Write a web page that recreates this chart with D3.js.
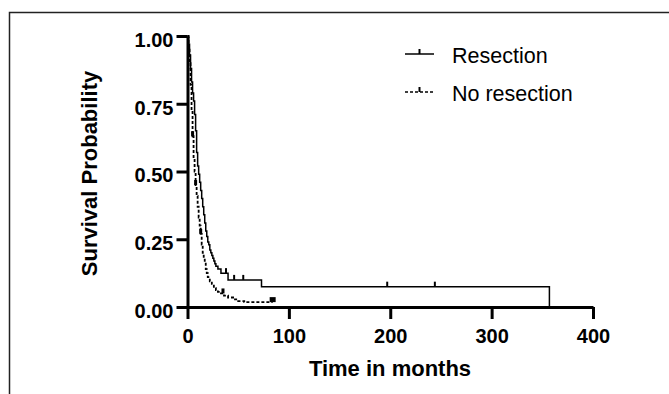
<!DOCTYPE html>
<html>
<head>
<meta charset="utf-8">
<script src="https://cdn.jsdelivr.net/npm/d3@7"></script>
<style>
  body { margin: 0; background: #fff; }
  svg { display: block; font-family: "Liberation Sans", Arial, sans-serif; }
</style>
</head>
<body>
<div id="chart"></div>
<script>
// Kaplan-Meier step points (months, survival)
var resTime = [0, 1, 2, 3, 4, 5, 6, 7, 8, 9, 10, 11, 12, 13, 14, 15, 16, 17, 18, 19, 20, 21, 22, 23, 24, 25, 26, 27, 28, 30, 33, 40, 73, 357, 357];
var resSurv = [1, 0.97, 0.93, 0.88, 0.83, 0.79, 0.76, 0.71, 0.65, 0.57, 0.52, 0.49, 0.46, 0.43, 0.40, 0.37, 0.34, 0.31, 0.28, 0.26, 0.24, 0.23, 0.21, 0.20, 0.19, 0.18, 0.17, 0.16, 0.15, 0.14, 0.125, 0.10, 0.075, 0, 0];
var resCensTime = [38, 46, 55, 197, 244];
var resCensSurv = [0.125, 0.10, 0.10, 0.075, 0.075];

var noTime = [0, 1, 2, 3, 4, 5, 6, 7, 8, 9, 10, 11, 12, 13, 14, 15, 16, 17, 18, 19, 20, 22, 24, 26, 28, 30, 33, 36, 40, 45, 50, 56, 84];
var noSurv = [1, 0.95, 0.90, 0.82, 0.72, 0.63, 0.55, 0.50, 0.45, 0.41, 0.37, 0.33, 0.30, 0.27, 0.23, 0.20, 0.18, 0.16, 0.14, 0.125, 0.11, 0.095, 0.085, 0.07, 0.062, 0.056, 0.05, 0.042, 0.035, 0.028, 0.022, 0.018, 0.018];
var noCensTime = [5, 8, 13, 35, 84];
var noCensSurv = [0.63, 0.45, 0.27, 0.05, 0.018];

var xTicks = [0, 100, 200, 300, 400];
var yTicks = [0, 0.25, 0.5, 0.75, 1];
var seriesNames = ["Resection", "No resection"];

const WIDTH = 669, HEIGHT = 394;

var svg = d3.select("#chart").append("svg")
    .attr("width", WIDTH)
    .attr("height", HEIGHT);

// outer frame (only top and left edges visible)
svg.append("path")
    .attr("d", "M9.5," + HEIGHT + "V12.5H" + WIDTH)
    .attr("fill", "none")
    .attr("stroke", "#222")
    .attr("stroke-width", 1.5);

var xScale = d3.scaleLinear().domain([0, 400]).range([187.5, 593]);
var yScale = d3.scaleLinear().domain([0, 1]).range([307, 36]);

var xAxis = d3.axisBottom(xScale).tickValues(xTicks).tickSize(12).tickSizeOuter(0).tickPadding(10);
var yAxis = d3.axisLeft(yScale).tickValues(yTicks).tickSize(11).tickSizeOuter(0).tickPadding(3)
    .tickFormat(d3.format(".2f"));

var gx = svg.append("g").attr("transform", "translate(0,307)").call(xAxis);
var gy = svg.append("g").attr("transform", "translate(187.5,0)").call(yAxis);

[gx, gy].forEach(function (g) {
    g.select(".domain").attr("stroke", "#000").attr("stroke-width", 3);
    g.selectAll(".tick line").attr("stroke", "#000").attr("stroke-width", 3);
    g.selectAll(".tick text")
        .attr("fill", "#000")
        .style("font-size", "20px")
        .style("font-weight", "bold")
        .style("font-family", "'Liberation Sans', Arial, sans-serif");
});
gy.selectAll(".tick text").attr("dy", "0.52em");

svg.append("text")
    .attr("x", 390).attr("y", 376)
    .attr("text-anchor", "middle")
    .style("font-size", "22px").style("font-weight", "bold")
    .text("Time in months");

svg.append("text")
    .attr("transform", "translate(97,173.5) rotate(-90)")
    .attr("text-anchor", "middle")
    .style("font-size", "22px").style("font-weight", "bold")
    .text("Survival Probability");

var line = d3.line()
    .x(function (d) { return xScale(d[0]); })
    .y(function (d) { return yScale(d[1]); })
    .curve(d3.curveStepAfter);

var resData = d3.zip(resTime, resSurv);
var noData = d3.zip(noTime, noSurv);

svg.append("path")
    .attr("d", line(noData))
    .attr("fill", "none")
    .attr("stroke", "#000")
    .attr("stroke-width", 1.8)
    .attr("stroke-dasharray", "3,2");

svg.append("path")
    .attr("d", line(resData))
    .attr("fill", "none")
    .attr("stroke", "#000")
    .attr("stroke-width", 1.5);

var drawCensors = function (times, survs, w) {
    svg.selectAll(null)
        .data(d3.zip(times, survs))
        .enter()
        .append("line")
        .attr("x1", function (d) { return xScale(d[0]); })
        .attr("x2", function (d) { return xScale(d[0]); })
        .attr("y1", function (d) { return yScale(d[1]); })
        .attr("y2", function (d) { return yScale(d[1]) - 5; })
        .attr("stroke", "#000")
        .attr("stroke-width", function (d, i) {
            return (w > 2 && i === times.length - 1) ? 6 : w;
        });
};
drawCensors(resCensTime, resCensSurv, 2);
drawCensors(noCensTime, noCensSurv, 3);

// legend
var legend = svg.append("g");
[0, 1].forEach(function (i) {
    var ly = i === 0 ? 54 : 92;
    legend.append("line")
        .attr("x1", 405).attr("x2", 434)
        .attr("y1", ly).attr("y2", ly)
        .attr("stroke", "#000")
        .attr("stroke-width", 1.5)
        .attr("stroke-dasharray", i === 0 ? null : "3,2");
    legend.append("line")
        .attr("x1", 419.5).attr("x2", 419.5)
        .attr("y1", ly).attr("y2", ly - 5)
        .attr("stroke", "#000")
        .attr("stroke-width", 2);
    legend.append("text")
        .attr("x", 452).attr("y", ly + 9)
        .style("font-size", "21.5px")
        .text(seriesNames[i]);
});
</script>
</body>
</html>
